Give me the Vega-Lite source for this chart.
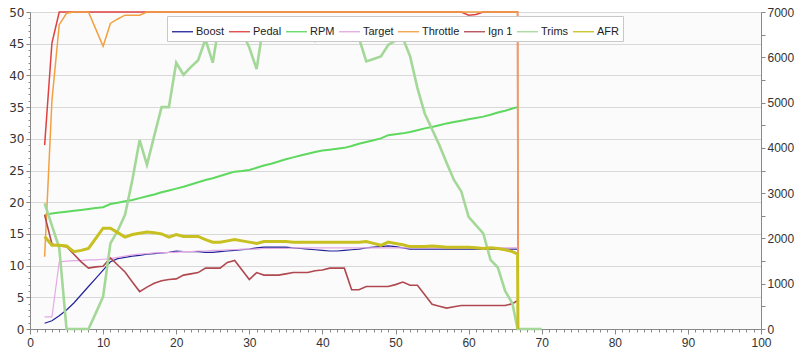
{
  "$schema": "https://vega.github.io/schema/vega-lite/v6.json",
  "width": 731,
  "height": 317,
  "autosize": {"type": "none"},
  "padding": {"left": 30, "top": 12, "right": 39, "bottom": 30},
  "background": "white",
  "config": {"view": {"stroke": null, "fill": "#fbfbfb"}, "font": "Liberation Sans"},
  "datasets": {
    "d": [
      {"x":2,"Boost":0.9,"Pedal":29,"RPM":2520,"Target":1.9,"Throttle":11.4,"Ign 1":18,"Trims":19.8,"AFR":14.6},
      {"x":3,"Boost":1.3,"Pedal":45.1,"RPM":2550,"Target":1.9,"Throttle":36,"Ign 1":13.4,"Trims":16.3,"AFR":13.2},
      {"x":4,"Boost":2.1,"Pedal":50,"RPM":2570,"Target":10.6,"Throttle":48,"Ign 1":13.1,"Trims":12.8,"AFR":13.2},
      {"x":5,"Boost":3.0,"Pedal":50,"RPM":2590,"Target":10.7,"Throttle":49.8,"Ign 1":13,"Trims":0,"AFR":13.1},
      {"x":6,"Boost":4.1,"Pedal":50,"RPM":2610,"Target":10.8,"Throttle":50,"Ign 1":11.8,"Trims":0,"AFR":12.2},
      {"x":7,"Boost":5.4,"Pedal":50,"RPM":2630,"Target":10.8,"Throttle":50,"Ign 1":10.6,"Trims":0,"AFR":12.4},
      {"x":8,"Boost":6.7,"Pedal":50,"RPM":2650,"Target":10.9,"Throttle":50,"Ign 1":9.6,"Trims":0,"AFR":12.7},
      {"x":9,"Boost":8.0,"Pedal":50,"RPM":2670,"Target":10.9,"Throttle":47.3,"Ign 1":9.8,"Trims":2.5,"AFR":14.3},
      {"x":10,"Boost":9.3,"Pedal":50,"RPM":2690,"Target":11.0,"Throttle":44.6,"Ign 1":9.9,"Trims":5.1,"AFR":15.9},
      {"x":11,"Boost":10.6,"Pedal":50,"RPM":2760,"Target":11.1,"Throttle":48.2,"Ign 1":11.2,"Trims":13.5,"AFR":15.9},
      {"x":12,"Boost":11.1,"Pedal":50,"RPM":2790,"Target":11.3,"Throttle":48.9,"Ign 1":10.1,"Trims":15.5,"AFR":15.2},
      {"x":13,"Boost":11.3,"Pedal":50,"RPM":2820,"Target":11.5,"Throttle":49.5,"Ign 1":9.0,"Trims":18.0,"AFR":14.5},
      {"x":14,"Boost":11.5,"Pedal":50,"RPM":2850,"Target":11.7,"Throttle":49.5,"Ign 1":7.4,"Trims":23.5,"AFR":14.9},
      {"x":15,"Boost":11.6,"Pedal":50,"RPM":2890,"Target":11.8,"Throttle":49.5,"Ign 1":5.9,"Trims":29.8,"AFR":15.1},
      {"x":16,"Boost":11.8,"Pedal":50,"RPM":2930,"Target":11.9,"Throttle":50,"Ign 1":6.6,"Trims":25.9,"AFR":15.3},
      {"x":17,"Boost":11.9,"Pedal":50,"RPM":2970,"Target":12.0,"Throttle":50,"Ign 1":7.2,"Trims":30.5,"AFR":15.2},
      {"x":18,"Boost":12.0,"Pedal":50,"RPM":3020,"Target":12.0,"Throttle":50,"Ign 1":7.6,"Trims":35.0,"AFR":15.0},
      {"x":19,"Boost":12.1,"Pedal":50,"RPM":3060,"Target":12.1,"Throttle":50,"Ign 1":7.8,"Trims":35.0,"AFR":14.5},
      {"x":20,"Boost":12.3,"Pedal":50,"RPM":3100,"Target":12.1,"Throttle":50,"Ign 1":7.9,"Trims":42.0,"AFR":14.9},
      {"x":21,"Boost":12.2,"Pedal":50,"RPM":3140,"Target":12.2,"Throttle":50,"Ign 1":8.5,"Trims":40.1,"AFR":14.6},
      {"x":22,"Boost":12.2,"Pedal":50,"RPM":3190,"Target":12.2,"Throttle":50,"Ign 1":8.7,"Trims":41.3,"AFR":14.6},
      {"x":23,"Boost":12.2,"Pedal":50,"RPM":3240,"Target":12.3,"Throttle":50,"Ign 1":8.9,"Trims":42.4,"AFR":14.6},
      {"x":24,"Boost":12.1,"Pedal":50,"RPM":3290,"Target":12.3,"Throttle":50,"Ign 1":9.6,"Trims":45.7,"AFR":14.1},
      {"x":25,"Boost":12.1,"Pedal":50,"RPM":3330,"Target":12.4,"Throttle":50,"Ign 1":9.6,"Trims":42.0,"AFR":13.7},
      {"x":26,"Boost":12.2,"Pedal":50,"RPM":3380,"Target":12.4,"Throttle":50,"Ign 1":9.6,"Trims":49.1,"AFR":13.7},
      {"x":27,"Boost":12.3,"Pedal":50,"RPM":3430,"Target":12.5,"Throttle":50,"Ign 1":10.5,"Trims":49.1,"AFR":13.9},
      {"x":28,"Boost":12.4,"Pedal":50,"RPM":3475,"Target":12.5,"Throttle":50,"Ign 1":10.8,"Trims":49.1,"AFR":14.1},
      {"x":29,"Boost":12.5,"Pedal":50,"RPM":3490,"Target":12.6,"Throttle":50,"Ign 1":9.3,"Trims":46.8,"AFR":13.9},
      {"x":30,"Boost":12.6,"Pedal":50,"RPM":3510,"Target":12.6,"Throttle":50,"Ign 1":7.8,"Trims":44.4,"AFR":13.7},
      {"x":31,"Boost":12.8,"Pedal":50,"RPM":3560,"Target":12.6,"Throttle":50,"Ign 1":8.9,"Trims":41.0,"AFR":13.5},
      {"x":32,"Boost":12.9,"Pedal":50,"RPM":3610,"Target":12.7,"Throttle":50,"Ign 1":8.5,"Trims":48.5,"AFR":13.8},
      {"x":33,"Boost":12.9,"Pedal":50,"RPM":3650,"Target":12.7,"Throttle":50,"Ign 1":8.5,"Trims":49.0,"AFR":13.8},
      {"x":34,"Boost":12.9,"Pedal":50,"RPM":3700,"Target":12.7,"Throttle":50,"Ign 1":8.5,"Trims":47.5,"AFR":13.8},
      {"x":35,"Boost":12.9,"Pedal":50,"RPM":3750,"Target":12.7,"Throttle":50,"Ign 1":8.7,"Trims":46.2,"AFR":13.8},
      {"x":36,"Boost":12.8,"Pedal":50,"RPM":3790,"Target":12.8,"Throttle":50,"Ign 1":8.9,"Trims":46.5,"AFR":13.7},
      {"x":37,"Boost":12.7,"Pedal":50,"RPM":3830,"Target":12.8,"Throttle":50,"Ign 1":8.9,"Trims":46.7,"AFR":13.7},
      {"x":38,"Boost":12.6,"Pedal":50,"RPM":3870,"Target":12.8,"Throttle":50,"Ign 1":8.9,"Trims":46.0,"AFR":13.7},
      {"x":39,"Boost":12.5,"Pedal":50,"RPM":3910,"Target":12.8,"Throttle":50,"Ign 1":9.2,"Trims":45.4,"AFR":13.7},
      {"x":40,"Boost":12.4,"Pedal":50,"RPM":3940,"Target":12.8,"Throttle":50,"Ign 1":9.3,"Trims":45.7,"AFR":13.7},
      {"x":41,"Boost":12.3,"Pedal":50,"RPM":3960,"Target":12.8,"Throttle":50,"Ign 1":9.6,"Trims":45.9,"AFR":13.7},
      {"x":42,"Boost":12.3,"Pedal":50,"RPM":3980,"Target":12.8,"Throttle":50,"Ign 1":9.6,"Trims":45.9,"AFR":13.7},
      {"x":43,"Boost":12.4,"Pedal":50,"RPM":4000,"Target":12.8,"Throttle":50,"Ign 1":9.6,"Trims":45.9,"AFR":13.7},
      {"x":44,"Boost":12.5,"Pedal":50,"RPM":4040,"Target":12.8,"Throttle":50,"Ign 1":6.2,"Trims":45.9,"AFR":13.7},
      {"x":45,"Boost":12.6,"Pedal":50,"RPM":4090,"Target":12.8,"Throttle":50,"Ign 1":6.2,"Trims":45.9,"AFR":13.7},
      {"x":46,"Boost":12.8,"Pedal":50,"RPM":4130,"Target":12.8,"Throttle":50,"Ign 1":6.7,"Trims":42.2,"AFR":13.8},
      {"x":47,"Boost":12.9,"Pedal":50,"RPM":4170,"Target":12.8,"Throttle":50,"Ign 1":6.7,"Trims":42.6,"AFR":13.5},
      {"x":48,"Boost":13.0,"Pedal":50,"RPM":4210,"Target":12.8,"Throttle":50,"Ign 1":6.7,"Trims":43.0,"AFR":13.2},
      {"x":49,"Boost":13.1,"Pedal":50,"RPM":4280,"Target":12.8,"Throttle":50,"Ign 1":6.7,"Trims":44.8,"AFR":13.7},
      {"x":50,"Boost":13.0,"Pedal":50,"RPM":4300,"Target":12.8,"Throttle":50,"Ign 1":7.0,"Trims":45.5,"AFR":13.5},
      {"x":51,"Boost":12.8,"Pedal":50,"RPM":4320,"Target":12.8,"Throttle":50,"Ign 1":7.4,"Trims":45.9,"AFR":13.3},
      {"x":52,"Boost":12.6,"Pedal":50,"RPM":4350,"Target":12.8,"Throttle":50,"Ign 1":6.9,"Trims":43.0,"AFR":13.0},
      {"x":53,"Boost":12.6,"Pedal":50,"RPM":4390,"Target":12.8,"Throttle":50,"Ign 1":6.9,"Trims":38.0,"AFR":13.0},
      {"x":54,"Boost":12.6,"Pedal":50,"RPM":4430,"Target":12.8,"Throttle":50,"Ign 1":5.4,"Trims":34.0,"AFR":13.0},
      {"x":55,"Boost":12.6,"Pedal":50,"RPM":4460,"Target":12.8,"Throttle":50,"Ign 1":3.9,"Trims":31.5,"AFR":13.1},
      {"x":56,"Boost":12.6,"Pedal":50,"RPM":4500,"Target":12.8,"Throttle":50,"Ign 1":3.6,"Trims":29.0,"AFR":13.0},
      {"x":57,"Boost":12.6,"Pedal":50,"RPM":4540,"Target":12.8,"Throttle":50,"Ign 1":3.3,"Trims":26.2,"AFR":12.9},
      {"x":58,"Boost":12.6,"Pedal":50,"RPM":4570,"Target":12.8,"Throttle":50,"Ign 1":3.5,"Trims":23.5,"AFR":12.9},
      {"x":59,"Boost":12.6,"Pedal":50,"RPM":4600,"Target":12.8,"Throttle":50,"Ign 1":3.7,"Trims":21.7,"AFR":12.9},
      {"x":60,"Boost":12.6,"Pedal":49.5,"RPM":4630,"Target":12.8,"Throttle":50,"Ign 1":3.7,"Trims":17.7,"AFR":12.9},
      {"x":61,"Boost":12.6,"Pedal":49.6,"RPM":4660,"Target":12.8,"Throttle":50,"Ign 1":3.7,"Trims":16.4,"AFR":12.8},
      {"x":62,"Boost":12.6,"Pedal":50,"RPM":4690,"Target":12.8,"Throttle":50,"Ign 1":3.7,"Trims":15.1,"AFR":12.7},
      {"x":63,"Boost":12.6,"Pedal":50,"RPM":4730,"Target":12.8,"Throttle":50,"Ign 1":3.7,"Trims":10.9,"AFR":12.8},
      {"x":64,"Boost":12.6,"Pedal":50,"RPM":4780,"Target":12.8,"Throttle":50,"Ign 1":3.7,"Trims":9.7,"AFR":12.7},
      {"x":65,"Boost":12.6,"Pedal":50,"RPM":4820,"Target":12.8,"Throttle":50,"Ign 1":3.7,"Trims":6.0,"AFR":12.5},
      {"x":66,"Boost":12.6,"Pedal":50,"RPM":4870,"Target":12.8,"Throttle":50,"Ign 1":4.0,"Trims":4.0,"AFR":12.2},
      {"x":66.7,"Boost":12.6,"Pedal":50,"RPM":4900,"Target":12.8,"Throttle":50,"Ign 1":4.5,"Trims":0,"AFR":11.8},
      {"x":66.75,"Pedal":0,"Throttle":0,"AFR":0},
      {"x":68,"Trims":0},
      {"x":69,"Trims":0},
      {"x":70,"Trims":0}
    ]
  },
  "data": {"name": "d"},
  "encoding": {
    "x": {
      "field": "x",
      "type": "quantitative",
      "scale": {"domain": [0, 100], "nice": false, "zero": false},
      "axis": {
        "title": null,
        "grid": false,
        "values": [0,1,2,3,4,5,6,7,8,9,10,11,12,13,14,15,16,17,18,19,20,21,22,23,24,25,26,27,28,29,30,31,32,33,34,35,36,37,38,39,40,41,42,43,44,45,46,47,48,49,50,51,52,53,54,55,56,57,58,59,60,61,62,63,64,65,66,67,68,69,70,71,72,73,74,75,76,77,78,79,80,81,82,83,84,85,86,87,88,89,90,91,92,93,94,95,96,97,98,99,100],
        "labelExpr": "datum.value % 10 === 0 ? datum.label : ''",
        "labelOverlap": false,
        "labelFlush": false,
        "tickSize": {"condition": {"test": "datum.value % 10 === 0", "value": 5}, "value": 3},
        "domainColor": "#888888",
        "tickColor": "#888888",
        "labelColor": "#333333",
        "labelFont": "Liberation Sans",
        "labelFontSize": 12,
        "labelPadding": 3
      }
    }
  },
  "layer": [
    {
      "transform": [{"filter": "isValid(datum.RPM)"}],
      "mark": {"type": "line", "strokeWidth": 2},
      "encoding": {
        "y": {
          "field": "RPM",
          "type": "quantitative",
          "scale": {"domain": [0, 7000], "nice": false},
          "axis": {
            "orient": "right",
            "title": null,
            "grid": false,
            "values": [0,500,1000,1500,2000,2500,3000,3500,4000,4500,5000,5500,6000,6500,7000],
            "labelExpr": "datum.value % 1000 === 0 ? datum.label : ''",
            "labelOverlap": false,
            "format": "d",
            "tickSize": 4,
            "domainColor": "#888888",
            "tickColor": "#888888",
            "labelColor": "#333333",
            "labelFont": "Liberation Sans",
            "labelFontSize": 12,
            "labelPadding": 2
          }
        },
        "color": {
          "datum": "RPM",
          "type": "nominal",
          "scale": {
            "domain": ["Boost", "Pedal", "RPM", "Target", "Throttle", "Ign 1", "Trims", "AFR"],
            "range": ["#22229a", "#e04040", "#5fd85f", "#e4a8e4", "#f2a040", "#b04850", "#a4d898", "#c8c020"]
          },
          "legend": {
            "orient": "none", "legendX": 137, "legendY": 4, "direction": "horizontal", "columns": 8,
            "title": null, "symbolType": "stroke", "symbolSize": 441, "symbolStrokeWidth": 1.3,
            "labelFont": "Liberation Sans", "labelFontSize": 11, "labelColor": "#222222",
            "fillColor": "white", "strokeColor": "#c8c8c8", "padding": 4, "columnPadding": 1, "labelOffset": 2,
            "encode": {"symbols": {"update": {"strokeWidth": {"value": 1.3}}}}
          }
        }
      }
    },
    {
      "transform": [
        {"fold": ["Boost", "Pedal", "Target", "Throttle", "Ign 1", "Trims", "AFR"], "as": ["series", "value"]},
        {"filter": "isValid(datum.value)"}
      ],
      "mark": {"type": "line"},
      "encoding": {
        "y": {
          "field": "value",
          "type": "quantitative",
          "scale": {"domain": [0, 50], "nice": false},
          "axis": {
            "orient": "left",
            "title": null,
            "values": [0,1,2,3,4,5,6,7,8,9,10,11,12,13,14,15,16,17,18,19,20,21,22,23,24,25,26,27,28,29,30,31,32,33,34,35,36,37,38,39,40,41,42,43,44,45,46,47,48,49,50],
            "labelExpr": "datum.value % 5 === 0 ? datum.label : ''",
            "labelOverlap": false,
            "grid": true,
            "gridColor": "#d8d8d8",
            "gridOpacity": {"condition": {"test": "datum.value % 5 === 0", "value": 1}, "value": 0},
            "tickSize": {"condition": {"test": "datum.value % 5 === 0", "value": 4}, "value": 2},
            "domainColor": "#888888",
            "tickColor": "#888888",
            "labelColor": "#333333",
            "labelFont": "DejaVu Sans",
            "labelFontSize": 12,
            "labelPadding": 2
          }
        },
        "color": {
          "field": "series",
          "type": "nominal",
          "scale": {
            "domain": ["Boost", "Pedal", "RPM", "Target", "Throttle", "Ign 1", "Trims", "AFR"],
            "range": ["#22229a", "#e04040", "#5fd85f", "#e4a8e4", "#f2a040", "#b04850", "#a4d898", "#c8c020"]
          },
          "legend": {
            "orient": "none", "legendX": 137, "legendY": 4, "direction": "horizontal", "columns": 8,
            "title": null, "symbolType": "stroke", "symbolSize": 441, "symbolStrokeWidth": 1.3,
            "labelFont": "Liberation Sans", "labelFontSize": 11, "labelColor": "#222222",
            "fillColor": "white", "strokeColor": "#c8c8c8", "padding": 4, "columnPadding": 1, "labelOffset": 2,
            "encode": {"symbols": {"update": {"strokeWidth": {"value": 1.3}}}}
          }
        },
        "strokeWidth": {
          "field": "series",
          "type": "nominal",
          "scale": {
            "type": "ordinal",
            "domain": ["Boost", "Pedal", "Target", "Throttle", "Ign 1", "Trims", "AFR"],
            "range": [1.2, 1.5, 1.2, 1.5, 1.6, 2.6, 3]
          },
          "legend": null
        }
      }
    }
  ],
  "resolve": {"scale": {"y": "independent"}}
}
